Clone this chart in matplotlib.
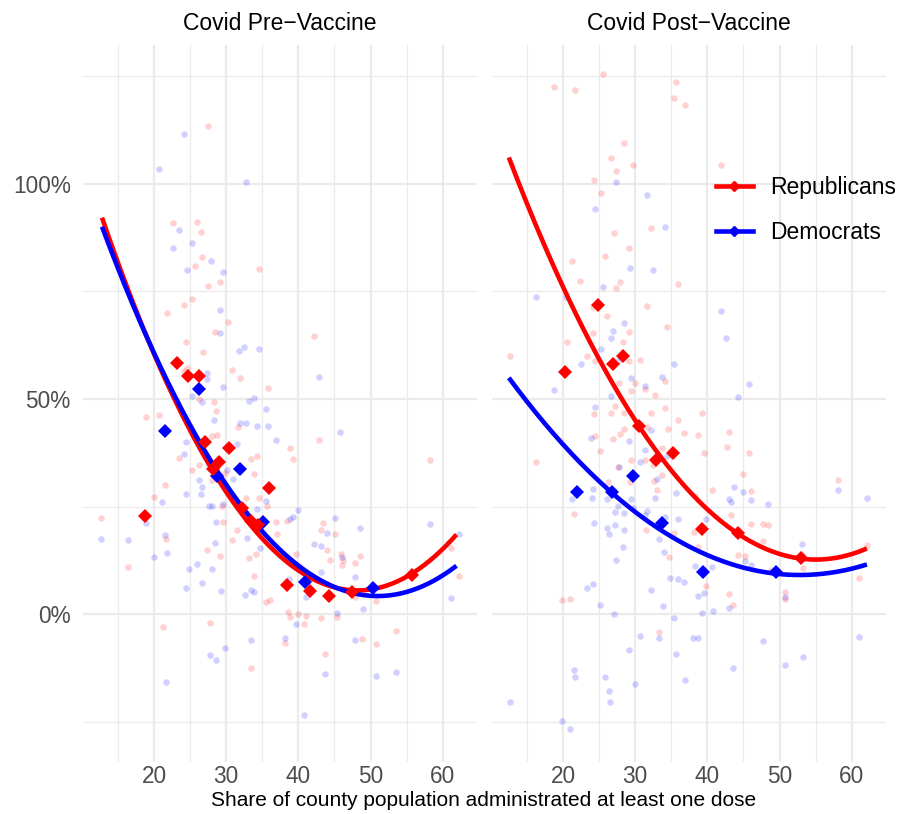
import numpy as np
import matplotlib
matplotlib.use("Agg")
import matplotlib.pyplot as plt
from matplotlib.lines import Line2D
from matplotlib.ticker import PercentFormatter, MultipleLocator, FixedLocator

plt.rcParams['font.family'] = ['Liberation Sans', 'DejaVu Sans']

RED = '#FF0000'
BLUE = '#0000FF'

# county points, pre-vaccine panel (x = % with one dose, y = excess deaths %)
pre_rep_x = [27.5, 22.6, 25.9, 26.5, 26.6, 25.7, 27.5, 29.2, 34.5, 25.3, 24.2, 21.8, 30.2, 28.5,
             42.1, 24.4, 26.8, 30.8, 31.9, 24.1, 24.6, 35.8, 26.2, 28.3, 28.6, 18.9, 20.7, 31.7,
             28.0, 28.7, 42.8, 38.8, 23.5, 25.3, 26.2, 21.5, 20.0, 28.0, 29.8, 33.4, 34.3, 33.8,
             39.3, 32.8, 34.6, 35.7, 29.4, 12.7, 29.5, 31.5, 30.8, 27.3, 29.2, 33.2, 34.2, 33.9,
             16.4, 21.7, 37.0, 36.9, 38.4, 43.4, 43.1, 45.1, 43.9, 44.4, 39.7, 45.9, 46.2, 46.1,
             47.9, 48.5, 58.2, 61.2, 62.2, 35.5, 36.1, 38.6, 38.8, 40.0, 41.0, 40.8, 43.2, 45.4,
             47.8, 50.8, 21.2, 27.8, 38.2, 48.8, 50.8, 53.5, 43.7, 33.5]
pre_rep_y = [113.5, 90.9, 91.2, 88.9, 82.9, 81.0, 76.3, 77.3, 80.2, 73.3, 71.9, 69.9, 68.0, 65.5,
             64.7, 63.3, 60.9, 56.8, 54.8, 56.6, 57.1, 52.5, 50.0, 49.3, 47.1, 45.8, 46.3, 43.4,
             41.5, 41.6, 40.5, 38.5, 36.2, 33.6, 34.7, 30.1, 27.3, 31.2, 32.7, 36.0, 36.7, 32.6,
             36.1, 26.9, 26.9, 25.1, 25.1, 22.3, 21.3, 19.5, 17.1, 15.0, 13.4, 13.0, 14.0, 8.9,
             11.0, 17.4, 18.7, 21.3, 21.7, 21.2, 19.5, 18.7, 15.0, 12.6, 14.0, 13.9, 12.6, 11.4,
             11.9, 13.5, 35.7, 15.3, 8.9, 2.7, 3.3, 0.5, -0.6, -0.1, -0.5, -2.2, -0.9, -0.8,
             4.0, 3.0, -3.0, -2.0, -6.7, -5.9, -6.9, -3.9, -9.2, -12.5]

pre_dem_x = [24.2, 20.7, 32.7, 23.5, 22.6, 25.3, 27.9, 24.6, 29.5, 29.2, 29.2, 31.8, 32.4, 34.5,
             27.3, 27.3, 42.8, 29.6, 25.3, 26.7, 33.2, 33.8, 35.5, 28.3, 31.9, 32.7, 34.3, 35.8,
             45.8, 24.5, 36.9, 31.5, 24.2, 30.9, 30.1, 26.3, 26.7, 26.5, 24.4, 21.1, 27.6, 28.1,
             29.6, 35.5, 34.3, 39.9, 39.3, 38.8, 28.6, 43.9, 45.1, 48.5, 58.2, 62.2, 12.7, 16.4,
             18.9, 21.5, 21.8, 20.0, 28.4, 32.9, 34.7, 42.1, 43.2, 46.1, 25.9, 24.9, 28.0, 26.6,
             24.5, 29.3, 32.6, 33.9, 33.4, 43.2, 47.9, 38.7, 41.0, 48.9, 39.7, 45.4, 61.1, 33.5,
             38.2, 47.8, 29.8, 27.8, 28.6, 43.7, 50.8, 53.5, 21.7, 40.8]
pre_dem_y = [111.6, 103.5, 100.4, 89.2, 85.0, 86.2, 82.0, 79.9, 79.6, 70.7, 65.3, 61.1, 62.1, 61.6,
             56.0, 54.7, 55.0, 52.9, 50.6, 49.2, 49.6, 50.2, 47.7, 45.0, 44.4, 44.4, 43.8, 43.8,
             42.4, 40.1, 40.5, 39.5, 37.2, 31.5, 33.5, 31.2, 29.5, 27.9, 28.0, 26.0, 25.1, 25.1,
             25.6, 26.3, 24.5, 24.3, 22.6, 22.0, 21.5, 18.9, 22.4, 20.1, 20.9, 18.7, 17.5, 17.3,
             21.1, 18.3, 14.3, 13.3, 16.5, 17.6, 15.3, 16.4, 15.8, 13.3, 11.7, 10.5, 10.5, 7.3,
             6.0, 5.3, 4.4, 5.2, 5.6, 9.8, 8.6, 8.1, 4.0, 1.1, -2.4, 0.2, 3.7, -6.0,
             -5.6, -6.0, -8.0, -9.5, -10.6, -13.9, -14.3, -13.4, -15.7, -23.5]

# county points, post-vaccine panel
post_rep_x = [25.5, 18.7, 21.6, 35.7, 35.4, 36.9, 28.4, 26.6, 27.3, 29.7, 41.9, 24.3, 25.2, 27.0,
              32.2, 29.2, 25.8, 21.3, 22.4, 27.9, 27.3, 36.0, 24.1, 31.7, 26.1, 34.4, 24.1, 29.1,
              28.3, 20.5, 12.6, 23.3, 24.4, 29.1, 30.7, 27.7, 30.0, 29.4, 31.3, 34.1, 32.7, 27.2,
              34.2, 24.3, 26.6, 28.4, 32.2, 39.2, 35.9, 28.5, 27.9, 24.4, 26.9, 31.7, 34.5, 36.7,
              38.7, 43.0, 25.1, 33.7, 39.5, 42.7, 45.7, 16.2, 29.4, 31.3, 27.6, 32.4, 29.3, 26.2,
              33.7, 32.6, 33.0, 45.0, 40.6, 46.0, 58.1, 21.5, 31.5, 35.4, 38.1, 38.3, 43.3, 46.0,
              47.7, 48.4, 47.7, 38.7, 34.7, 44.2, 45.2, 53.3, 48.8, 61.0, 62.1, 53.1, 39.8, 43.0,
              43.5, 50.7, 50.7, 19.9, 21.0, 33.3]
post_rep_y = [125.6, 122.6, 121.9, 123.6, 120.0, 118.4, 109.4, 106.1, 103.0, 104.3, 104.3, 100.9,
              98.0, 88.7, 89.7, 85.0, 83.3, 82.1, 77.4, 77.3, 75.7, 76.7, 71.5, 71.7, 69.2, 66.7,
              65.3, 65.6, 63.3, 63.3, 60.0, 60.0, 58.9, 58.9, 59.0, 53.8, 53.7, 51.9, 52.3, 54.2,
              51.0, 48.4, 47.9, 46.4, 46.8, 46.8, 46.7, 46.8, 45.0, 43.0, 41.9, 41.5, 40.6, 43.4,
              43.0, 42.2, 41.7, 42.3, 38.0, 38.6, 37.4, 38.8, 37.4, 35.4, 35.8, 35.8, 34.2, 34.6,
              30.6, 30.7, 32.4, 30.9, 28.8, 32.5, 28.8, 28.7, 31.2, 23.3, 19.5, 18.9, 19.1, 27.4,
              23.0, 21.0, 20.9, 20.7, 17.0, 15.5, 13.3, 13.7, 13.6, 10.6, 10.2, 8.3, 16.1, 14.0,
              6.6, 4.7, 2.2, 5.1, 3.5, 3.3, 3.6, -4.1]

post_dem_x = [27.4, 31.6, 24.5, 34.2, 29.3, 32.5, 25.6, 16.2, 20.4, 41.9, 26.9, 26.7, 28.5, 42.6,
              25.2, 22.5, 35.4, 27.6, 29.4, 33.7, 31.3, 18.8, 26.6, 45.7, 44.3, 24.4, 23.9, 29.1,
              32.2, 31.3, 30.7, 27.8, 24.2, 21.3, 24.0, 26.1, 27.6, 27.2, 28.4, 29.7, 29.4, 32.7,
              33.0, 31.7, 31.4, 34.4, 35.7, 34.1, 36.0, 39.8, 43.0, 43.3, 43.7, 45.0, 46.0, 48.4,
              58.1, 62.1, 24.3, 26.1, 26.4, 27.2, 28.5, 28.3, 27.4, 33.3, 34.0, 38.3, 40.6, 45.2,
              46.1, 53.1, 50.7, 34.8, 35.9, 36.7, 24.1, 23.3, 32.2, 39.5, 38.7, 25.1, 27.0, 33.8,
              35.4, 39.2, 40.8, 43.0, 30.7, 33.3, 38.0, 38.7, 47.7, 61.0, 29.1, 35.6, 53.3, 50.7,
              43.5, 21.5, 21.6, 25.8, 36.9, 30.0, 26.4, 26.5, 12.6, 19.9, 21.0]
post_dem_y = [100.4, 97.5, 94.1, 90.0, 80.5, 80.1, 76.0, 73.7, 73.7, 70.4, 65.8, 64.2, 67.6, 64.2,
              61.7, 58.2, 58.2, 58.9, 54.9, 55.2, 53.0, 52.0, 50.8, 53.5, 50.4, 48.1, 40.9, 40.2,
              42.7, 38.2, 35.4, 34.3, 29.0, 26.8, 27.0, 26.7, 25.1, 23.7, 23.6, 24.7, 26.8, 27.0,
              31.3, 24.0, 23.0, 36.7, 28.1, 22.6, 22.0, 22.0, 26.8, 26.0, 29.5, 28.3, 26.5, 25.7,
              28.9, 27.0, 21.1, 19.9, 18.6, 20.8, 19.6, 15.7, 12.6, 17.5, 14.5, 11.2, 11.0, 12.3,
              11.4, 16.3, 3.9, 8.4, 8.1, 7.5, 7.1, 6.0, 5.5, 4.8, 4.2, 2.0, 0.1, 1.9,
              -0.9, 0.2, 0.8, 1.4, -5.0, -5.6, -5.6, -5.6, -6.3, -5.3, -8.4, -9.2, -10.0, -11.9,
              -12.6, -13.1, -14.7, -14.7, -15.3, -16.2, -17.9, -20.5, -20.5, -24.9, -26.7]

# binned means (diamonds)
pre_rep_bin_x = [18.8, 23.2, 24.7, 26.2, 27.1, 28.2, 29.0, 30.4, 32.2, 33.4, 34.4, 35.9, 38.4,
                 41.6, 44.2, 47.4, 55.7]
pre_rep_bin_y = [22.8, 58.4, 55.3, 55.3, 40.0, 33.7, 35.3, 38.6, 24.7, 21.6, 20.7, 29.3, 6.7,
                 5.3, 4.2, 5.1, 9.1]
pre_dem_bin_x = [21.5, 26.2, 28.7, 31.9, 35.1, 40.9, 50.3]
pre_dem_bin_y = [42.6, 52.3, 32.1, 33.7, 21.4, 7.4, 6.0]
post_rep_bin_x = [20.3, 24.85, 26.9, 28.3, 30.5, 32.9, 35.2, 39.3, 44.2, 53.0]
post_rep_bin_y = [56.3, 71.9, 58.1, 60.0, 43.7, 35.8, 37.4, 19.8, 18.8, 13.0]
post_dem_bin_x = [21.9, 26.8, 29.7, 33.7, 39.4, 49.5]
post_dem_bin_y = [28.4, 28.4, 32.1, 21.2, 9.8, 9.8]

# points
pre_rep_fit_x = [12.8, 17.6, 23.6, 27.8, 30.2, 31.9, 36.5, 41.1, 47.1, 51.3, 55.9, 61.9]
pre_rep_fit_y = [90.5, 71.5, 49.3, 34.3, 26.5, 24.2, 14.9, 8.7, 5.2, 6.0, 9.3, 19.1]
pre_dem_fit_x = [12.8, 17.6, 23.6, 27.8, 30.8, 34.7, 41.1, 47.1, 51.3, 55.9, 61.9]
pre_dem_fit_y = [89.0, 71.5, 49.3, 34.3, 26.5, 21.5, 9.8, 5.0, 4.3, 5.6, 11.2]
post_rep_fit_x = [12.5, 16.1, 22.8, 30.7, 31.1, 35.3, 39.9, 44.5, 49.1, 53.8, 58.4, 62.1]
post_rep_fit_y = [107.5, 90.0, 65.0, 43.6, 41.5, 34.3, 25.0, 18.4, 14.1, 12.4, 13.3, 15.3]
post_dem_fit_x = [12.5, 14.5, 19.3, 26.8, 30.7, 33.75, 35.3, 39.35, 44.5, 50.1, 53.8, 58.4, 62.1]
post_dem_fit_y = [55.2, 49.8, 41.2, 28.3, 22.6, 19.1, 18.4, 14.1, 11.0, 8.7, 9.1, 10.2, 11.6]

panels = [
    ("Covid Pre\u2212Vaccine",
     (pre_rep_x, pre_rep_y, pre_rep_bin_x, pre_rep_bin_y, pre_rep_fit_x, pre_rep_fit_y),
     (pre_dem_x, pre_dem_y, pre_dem_bin_x, pre_dem_bin_y, pre_dem_fit_x, pre_dem_fit_y)),
    ("Covid Post\u2212Vaccine",
     (post_rep_x, post_rep_y, post_rep_bin_x, post_rep_bin_y, post_rep_fit_x, post_rep_fit_y),
     (post_dem_x, post_dem_y, post_dem_bin_x, post_dem_bin_y, post_dem_fit_x, post_dem_fit_y)),
]

fig = plt.figure(figsize=(9, 8.14), dpi=100)
lefts = [82.5 / 900, 491.5 / 900]
axes = []
for i, (title, rep, dem) in enumerate(panels):
    ax = fig.add_axes([lefts[i], 52 / 814, 394.2 / 900, 717 / 814])
    axes.append(ax)
    for z, (data, col) in enumerate([(rep, RED), (dem, BLUE)]):
        px, py, bx, by, fx, fy = data
        ax.scatter(px, py, s=22, color=col, alpha=0.18, linewidths=0, zorder=1)
        coef = np.polyfit(fx, fy, 2)
        xs = np.linspace(min(fx), max(fx), 200)
        ax.plot(xs, np.polyval(coef, xs), color=col, lw=3.3, zorder=2 + z,
                solid_capstyle='butt')
        ax.plot(bx, by, 'D', color=col, markersize=7, markeredgewidth=0, zorder=5 - z)

    ax.set_xlim(10.1, 64.7)
    ax.set_ylim(-34.4, 132.3)
    ax.xaxis.set_major_locator(MultipleLocator(10))
    ax.xaxis.set_minor_locator(FixedLocator([15, 25, 35, 45, 55]))
    ax.yaxis.set_major_locator(FixedLocator([0, 50, 100]))
    ax.yaxis.set_minor_locator(FixedLocator([-25, 25, 75, 125]))
    ax.yaxis.set_major_formatter(PercentFormatter(decimals=0))
    ax.grid(which='major', color='#EBEBEB', lw=1.6)
    ax.grid(which='minor', color='#EBEBEB', lw=0.9)
    ax.set_axisbelow(True)
    for s in ax.spines.values():
        s.set_visible(False)
    ax.tick_params(which='both', length=0)
    ax.tick_params(axis='x', labelsize=16.3, labelcolor='#4D4D4D', pad=2)
    ax.tick_params(axis='y', labelsize=16.3, labelcolor='#4D4D4D', pad=8.5)
    if i == 1:
        ax.tick_params(axis='y', labelleft=False)
    ax.set_title(title, fontsize=16.5, color='black', pad=10.8)

handles = [Line2D([], [], color=RED, lw=3.3, marker='D', markersize=5),
           Line2D([], [], color=BLUE, lw=3.3, marker='D', markersize=5)]
axes[1].legend(handles, ["Republicans", "Democrats"], loc='upper left',
               bbox_to_anchor=(0.5695, 0.817), frameon=False, fontsize=16.5,
               handlelength=1.6, handletextpad=0.78, labelspacing=0.95,
               borderpad=0, borderaxespad=0)

fig.text(484 / 900, 1 - 801 / 814, "Share of county population administrated at least one dose",
         ha='center', va='center', fontsize=15, color='black')

fig.savefig("out.png", dpi=100)
